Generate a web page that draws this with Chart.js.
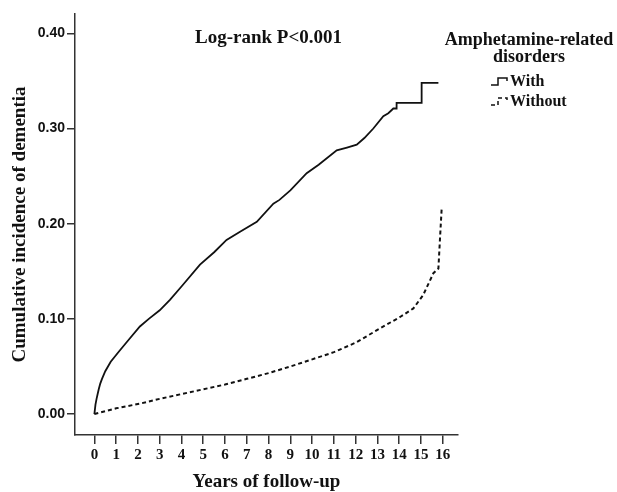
<!DOCTYPE html>
<html>
<head>
<meta charset="utf-8">
<script src="https://cdn.jsdelivr.net/npm/chart.js@4"></script>
<style>
  html, body { margin: 0; padding: 0; background: #fff; }
  #wrap { width: 617px; height: 492px; }
</style>
</head>
<body>
<div id="wrap"><canvas id="kmChart" width="617" height="492"></canvas></div>
<script>
// Kaplan-Meier style cumulative incidence
const withYears = [0, 0.05, 0.1, 0.15, 0.2, 0.27, 0.35, 0.5, 0.75, 1.1, 1.5, 2.09, 2.5, 3, 3.47, 4, 4.85, 5.5, 6.07, 6.69, 7.46, 8.22, 8.5, 9, 9.75, 10.3, 11.13, 11.6, 12.05, 12.4, 12.81, 13.27, 13.5, 13.73, 13.88, 13.88, 15.03, 15.03, 15.8];
const withIncidence = [0, 0.01, 0.016, 0.021, 0.026, 0.032, 0.037, 0.045, 0.055, 0.065, 0.076, 0.092, 0.1, 0.109, 0.12, 0.134, 0.157, 0.17, 0.183, 0.1915, 0.202, 0.221, 0.225, 0.235, 0.253, 0.262, 0.277, 0.28, 0.283, 0.29, 0.3, 0.313, 0.316, 0.321, 0.321, 0.327, 0.327, 0.348, 0.348];

const withoutYears = [0, 1, 2.1, 3, 4, 5, 6, 7, 8, 9, 9.9, 11, 12, 13.12, 14.04, 14.65, 15.1, 15.57, 15.8, 15.87, 15.95];
const withoutIncidence = [0, 0.006, 0.011, 0.016, 0.021, 0.026, 0.031, 0.037, 0.043, 0.05, 0.0567, 0.065, 0.075, 0.09, 0.102, 0.111, 0.125, 0.148, 0.153, 0.183, 0.216];

const yearTicks = [0, 1, 2, 3, 4, 5, 6, 7, 8, 9, 10, 11, 12, 13, 14, 15, 16];
const incidenceTicks = [0, 0.1, 0.2, 0.3, 0.4];
const groupLabels = ['With', 'Without'];
const legendTitle = ['Amphetamine-related', 'disorders'];
const pValueText = 'Log-rank P<0.001';

function toPoints(xs, ys) {
    return xs.map((x, i) => ({ x: x, y: ys[i] }));
}

const serifBold = { family: '"Liberation Serif", "Times New Roman", serif', weight: 'bold' };

// p-value text and the legend are drawn by hand, like the SPSS output
const extraText = {
    id: 'extraText',
    afterDraw(chart) {
        const ctx = chart.ctx;
        const area = chart.chartArea;
        ctx.save();
        ctx.fillStyle = '#111';
        ctx.textBaseline = 'middle';
        ctx.textAlign = 'center';
        ctx.font = 'bold 19px "Liberation Serif"';
        ctx.fillText(pValueText, (area.left + area.right) / 2 + 2, 38);

        ctx.font = 'bold 18px "Liberation Serif"';
        legendTitle.forEach((line, i) => ctx.fillText(line, 529, 40 + i * 17.5));

        ctx.textAlign = 'left';
        ctx.font = 'bold 16px "Liberation Serif"';
        chart.data.datasets.forEach((ds, i) => {
            const y = 82 + i * 20;
            ctx.strokeStyle = ds.borderColor;
            ctx.lineWidth = 1.5;
            ctx.setLineDash(ds.borderDash || []);
            ctx.beginPath();
            ctx.moveTo(491, y + 3);
            ctx.lineTo(498, y + 3);
            ctx.lineTo(498, y - 4);
            ctx.lineTo(507, y - 4);
            ctx.lineTo(507, y - 1);
            ctx.stroke();
            ctx.setLineDash([]);
            ctx.fillText(ds.label, 510, y);
        });
        ctx.restore();
    }
};

new Chart(document.getElementById('kmChart'), {
    type: 'line',
    data: {
        datasets: [{
            label: groupLabels[0],
            data: toPoints(withYears, withIncidence),
            borderColor: '#111',
            borderWidth: 1.8,
            pointRadius: 0,
            tension: 0
        }, {
            label: groupLabels[1],
            data: toPoints(withoutYears, withoutIncidence),
            borderColor: '#111',
            borderWidth: 2,
            borderDash: [4, 3],
            pointRadius: 0,
            tension: 0
        }]
    },
    options: {
        responsive: false,
        animation: false,
        devicePixelRatio: 1,
        layout: { padding: { left: 0, right: 159, top: 14, bottom: 0 } },
        plugins: {
            legend: { display: false },
            tooltip: { enabled: false }
        },
        scales: {
            x: {
                type: 'linear',
                min: -0.89,
                max: 16.7,
                afterBuildTicks: s => { s.ticks = yearTicks.map(v => ({ value: v })); },
                afterFit: s => { s.height = 57; },
                ticks: {
                    font: Object.assign({ size: 15 }, serifBold),
                    color: '#111',
                    padding: 2,
                    maxRotation: 0,
                    autoSkip: false
                },
                grid: { drawOnChartArea: false, tickLength: 9, color: '#333', lineWidth: 1.5 },
                border: { color: '#333', width: 1.5 },
                title: {
                    display: true,
                    text: 'Years of follow-up',
                    color: '#111',
                    font: Object.assign({ size: 19, lineHeight: 1 }, serifBold),
                    padding: { top: 0, bottom: 0 }
                }
            },
            y: {
                type: 'linear',
                min: -0.022,
                max: 0.4203,
                afterBuildTicks: s => { s.ticks = incidenceTicks.map(v => ({ value: v })); },
                afterFit: s => { s.width = 75; },
                ticks: {
                    font: { family: '"Liberation Sans", Arial, sans-serif', weight: 'bold', size: 14 },
                    color: '#111',
                    padding: 2,
                    callback: v => v.toFixed(2)
                },
                grid: { drawOnChartArea: false, tickLength: 8, color: '#333', lineWidth: 1.5 },
                border: { color: '#333', width: 1.5 },
                title: {
                    display: true,
                    text: 'Cumulative incidence of dementia',
                    color: '#111',
                    font: Object.assign({ size: 19, lineHeight: 1 }, serifBold),
                    padding: { top: 11, bottom: 0 }
                }
            }
        }
    },
    plugins: [extraText]
});
</script>
</body>
</html>
